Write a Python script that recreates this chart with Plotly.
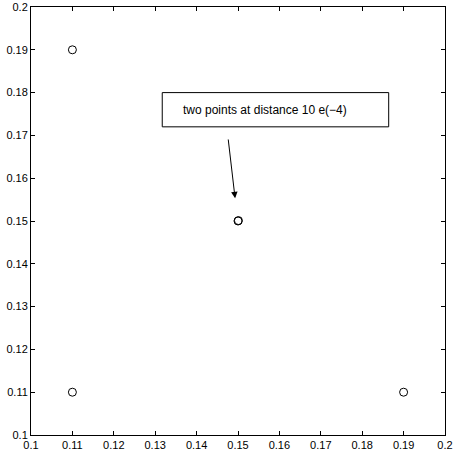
import plotly.graph_objects as go

x_vals = [0.11, 0.11, 0.19, 0.15, 0.1501]
y_vals = [0.19, 0.11, 0.11, 0.15, 0.1501]
tick_vals = [0.1, 0.11, 0.12, 0.13, 0.14, 0.15, 0.16, 0.17, 0.18, 0.19, 0.2]
tick_text = ["0.1", "0.11", "0.12", "0.13", "0.14", "0.15", "0.16", "0.17", "0.18", "0.19", "0.2"]
note_text = "two points at distance 10 e(\u22124)"

fig = go.Figure()
fig.add_trace(go.Scatter(
    x=x_vals, y=y_vals, mode="markers",
    marker=dict(symbol="circle-open", size=8, color="black", line=dict(width=1)),
    showlegend=False, hoverinfo="skip"))

axis_common = dict(
    range=[0.1, 0.2], tickvals=tick_vals, ticktext=tick_text,
    ticks="inside", ticklen=4, tickcolor="black", tickwidth=1,
    showline=True, linecolor="black", linewidth=1, mirror="ticks",
    showgrid=False, zeroline=False, automargin=False,
    tickfont=dict(family="Liberation Sans, Arial, sans-serif", size=11, color="black"),
)

fig.update_layout(
    width=453, height=456,
    margin=dict(l=31, r=8, t=7, b=21),
    paper_bgcolor="white", plot_bgcolor="white",
    xaxis=dict(**axis_common),
    yaxis=dict(**axis_common),
    shapes=[dict(type="rect", xref="x", yref="y",
                 x0=0.1317, x1=0.1864, y0=0.172, y1=0.18,
                 line=dict(color="black", width=1), fillcolor="white")],
    annotations=[
        dict(x=0.1363, y=0.176, xref="x", yref="y", text=note_text,
             showarrow=False, xanchor="left", yanchor="middle",
             font=dict(family="Liberation Sans, Arial, sans-serif", size=12, color="black")),
        dict(x=0.1493, y=0.1553, xref="x", yref="y", axref="x", ayref="y",
             ax=0.1476, ay=0.1694, text="", showarrow=True,
             arrowhead=2, arrowsize=1.3, arrowwidth=1, arrowcolor="black"),
    ],
)

fig.write_html("out.html", config={"displayModeBar": False},
               post_script="document.body.style.margin='0px';document.body.style.padding='0px';")
